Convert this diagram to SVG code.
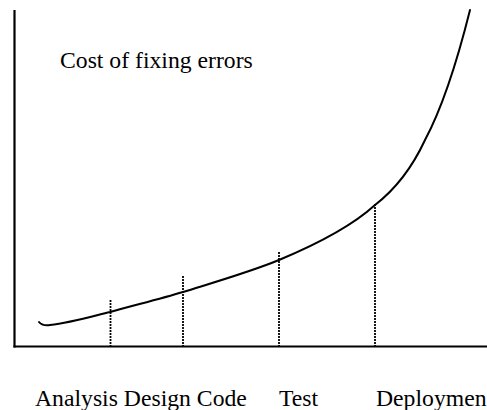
<svg xmlns="http://www.w3.org/2000/svg" width="487" height="410" viewBox="0 0 487 410">
<style>
.axis{stroke:#000;stroke-width:2.2;fill:none}
.curve{stroke:#000;stroke-width:2;fill:none;stroke-linecap:round}
.drop{stroke:#000;stroke-width:1.8;stroke-dasharray:2 1;fill:none}
text{font-family:"Liberation Serif","Times New Roman",serif;font-size:23.7px;fill:#000}
</style>
<rect width="487" height="410" fill="#fff"/>
<g id="axes">
<line class="axis" x1="14.5" y1="10" x2="14.5" y2="347.5"/>
<line class="axis" x1="13.5" y1="346.5" x2="487" y2="346.5"/>
</g>
<g id="cost-curve">
<path class="curve" d="M39,322 Q42,326 50,325 C70,323 90,317 110,312 C135,305 160,299 183,292 C215,282 250,272 279,260 C315,245 352,226 375,205 C397,188 412,168 425,140 C440,112 455,70 470,10"/>
</g>
<g id="connectors">
<line class="drop" x1="110.5" y1="300" x2="110.5" y2="346"/>
<line class="drop" x1="183" y1="276" x2="183" y2="346"/>
<line class="drop" x1="279" y1="252" x2="279" y2="346"/>
<line class="drop" x1="375" y1="204" x2="375" y2="346"/>
</g>
<g id="title"><text x="60" y="68">Cost of fixing errors</text></g>
<g id="labels">
<text x="35" y="406">Analysis Design Code</text>
<text x="279" y="406">Test</text>
<text x="376" y="406">Deploymen</text>
</g>
</svg>
